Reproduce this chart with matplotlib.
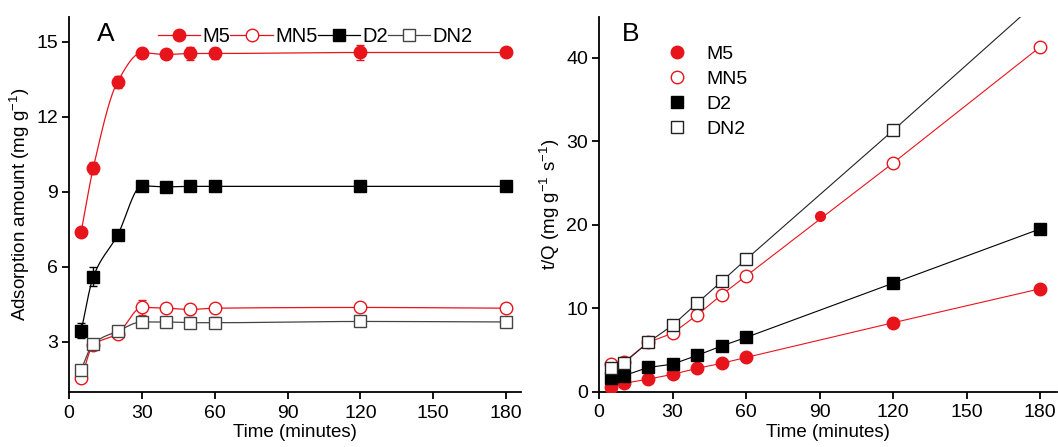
import numpy as np
import matplotlib
matplotlib.use("Agg")
import matplotlib.pyplot as plt
from matplotlib.lines import Line2D

plt.rcParams['font.family'] = ['Liberation Sans', 'DejaVu Sans']
plt.rcParams['mathtext.fontset'] = 'custom'
plt.rcParams['mathtext.rm'] = 'Liberation Sans'

RED = '#e8141c'

# ---- Panel A: adsorption kinetics ----
time_a = [5, 10, 20, 30, 40, 50, 60, 120, 180]
m5_q = [7.39, 9.96, 13.40, 14.56, 14.49, 14.53, 14.53, 14.57, 14.57]
m5_err = [0.10, 0.25, 0.25, 0.15, 0.10, 0.25, 0.22, 0.30, 0.12]
d2_q = [3.44, 5.60, 7.27, 9.24, 9.20, 9.22, 9.22, 9.22, 9.22]
d2_err = [0.30, 0.38, 0.15, 0.10, 0.18, 0.10, 0.10, 0.10, 0.10]
mn5_q = [1.56, 2.87, 3.33, 4.38, 4.35, 4.30, 4.35, 4.38, 4.35]
mn5_err = [0.15, 0.15, 0.15, 0.30, 0.10, 0.20, 0.10, 0.12, 0.15]
dn2_q = [1.90, 2.93, 3.43, 3.80, 3.80, 3.77, 3.77, 3.82, 3.80]
dn2_err = [0.15, 0.15, 0.15, 0.10, 0.12, 0.22, 0.22, 0.10, 0.10]

# ---- Panel B: pseudo-second-order plot t/Q vs t ----
time_b = [5, 10, 20, 30, 40, 50, 60, 120, 180]
m5_tq = [0.6, 1.0, 1.5, 2.08, 2.8, 3.4, 4.1, 8.26, 12.33]
mn5_tq = [3.35, 3.5, 5.9, 7.0, 9.18, 11.6, 13.86, 27.4, 41.3]
d2_tq = [1.6, 1.9, 2.9, 3.3, 4.35, 5.47, 6.5, 13.0, 19.5]
dn2_tq = [2.8, 3.4, 5.9, 7.95, 10.6, 13.2, 15.85, 31.3, 47.0]
m5_extra_t = [90]
m5_extra_tq = [21.0]


def smooth_curve(x, y, n=400):
    """Monotone cubic Hermite (Fritsch-Carlson) curve through the points."""
    x = np.asarray(x, float)
    y = np.asarray(y, float)
    h = np.diff(x)
    d = np.diff(y) / h
    m = np.zeros_like(y)
    m[0], m[-1] = d[0], d[-1]
    for i in range(1, len(x) - 1):
        if d[i - 1] * d[i] <= 0:
            m[i] = 0.0
        else:
            w1 = 2 * h[i] + h[i - 1]
            w2 = h[i] + 2 * h[i - 1]
            m[i] = (w1 + w2) / (w1 / d[i - 1] + w2 / d[i])
    xs = np.linspace(x[0], x[-1], n)
    idx = np.clip(np.searchsorted(x, xs) - 1, 0, len(x) - 2)
    t = (xs - x[idx]) / h[idx]
    h00 = 2 * t**3 - 3 * t**2 + 1
    h10 = t**3 - 2 * t**2 + t
    h01 = -2 * t**3 + 3 * t**2
    h11 = t**3 - t**2
    ys = (h00 * y[idx] + h10 * h[idx] * m[idx] + h01 * y[idx + 1]
          + h11 * h[idx] * m[idx + 1])
    return xs, ys


fig = plt.figure(figsize=(10.58, 4.47), dpi=100)
axA = fig.add_axes([0.0652, 0.123, 0.4269, 0.8396])
axB = fig.add_axes([0.5662, 0.1237, 0.4326, 0.8389])


def style_axes(ax):
    for s in ('top', 'right'):
        ax.spines[s].set_visible(False)
    for s in ('left', 'bottom'):
        ax.spines[s].set_linewidth(1.3)
    ax.tick_params(direction='out', length=5, width=1.3, labelsize=14,
                   pad=3)
    ax.tick_params(axis='x', pad=4)
    ax.set_xticks([0, 30, 60, 90, 120, 150, 180])
    ax.set_xlabel('Time (minutes)', fontsize=13.5, labelpad=2)


# Panel A
series_a = [
    (m5_q, m5_err, RED, 'o', RED, 'M5', 9),
    (mn5_q, mn5_err, RED, 'o', 'white', 'MN5', 9),
    (d2_q, d2_err, 'black', 's', 'black', 'D2', 8.5),
    (dn2_q, dn2_err, '#444444', 's', 'white', 'DN2', 8.5),
]
for q, err, col, mk, fc, lab, ms in series_a:
    xs, ys = smooth_curve(time_a, q)
    axA.plot(xs, ys, color=col, lw=0.9, zorder=2)
    axA.errorbar(time_a, q, yerr=err, fmt='none', ecolor=col, elinewidth=1.0,
                 capsize=3, capthick=1.0, zorder=3)
    axA.plot(time_a, q, linestyle='none', marker=mk, ms=ms, mfc=fc, mec=col,
             mew=1.0, zorder=4)

axA.set_xlim(0, 186)
axA.set_ylim(1, 16)
axA.set_yticks([3, 6, 9, 12, 15])
style_axes(axA)
axA.set_ylabel('Adsorption amount (mg g$^{-1}$)', fontsize=13.5, labelpad=3)
axA.text(0.062, 0.985, 'A', transform=axA.transAxes, fontsize=19,
         va='top', ha='left')

handles_a = [Line2D([0], [0], color=c, lw=0.9, marker=mk, ms=ms, mfc=fc,
                    mec=c, mew=1.0) for _, _, c, mk, fc, _, ms in series_a]
labels_a = [s[5] for s in series_a]
axA.legend(handles_a, labels_a, loc='upper left', bbox_to_anchor=(0.17, 1.005),
           ncol=4, frameon=False, fontsize=14.5, handlelength=2.1,
           handletextpad=0.12, columnspacing=0.0, borderaxespad=0.2)

# Panel B
series_b = [
    (m5_tq, RED, 'o', RED, 'M5', 9),
    (mn5_tq, RED, 'o', 'white', 'MN5', 9),
    (d2_tq, 'black', 's', 'black', 'D2', 8.5),
    (dn2_tq, '#222222', 's', 'white', 'DN2', 8.5),
]
for tq, col, mk, fc, lab, ms in series_b:
    axB.plot(time_b, tq, color=col, lw=0.8, zorder=2)
    axB.plot(time_b, tq, linestyle='none', marker=mk, ms=ms, mfc=fc, mec=col,
             mew=1.0, zorder=4)
axB.plot(m5_extra_t, m5_extra_tq, linestyle='none', marker='o', ms=7,
         mfc=RED, mec=RED, zorder=4)

axB.set_xlim(0, 186.7)
axB.set_ylim(0, 44.9)
axB.set_yticks([0, 10, 20, 30, 40])
style_axes(axB)
axB.set_ylabel('t/Q (mg g$^{-1}$ s$^{-1}$)', fontsize=13.5, labelpad=3)
axB.text(0.05, 0.985, 'B', transform=axB.transAxes, fontsize=19,
         va='top', ha='left')

handles_b = [Line2D([0], [0], linestyle='none', marker=mk, ms=ms, mfc=fc,
                    mec=c, mew=1.0) for _, c, mk, fc, _, ms in series_b]
labels_b = [s[4] for s in series_b]
axB.legend(handles_b, labels_b, loc='upper left', bbox_to_anchor=(0.12, 0.955),
           frameon=False, fontsize=14, handlelength=1.2, handletextpad=0.9,
           labelspacing=0.38, borderaxespad=0.2)

fig.savefig('out.png', dpi=100)
